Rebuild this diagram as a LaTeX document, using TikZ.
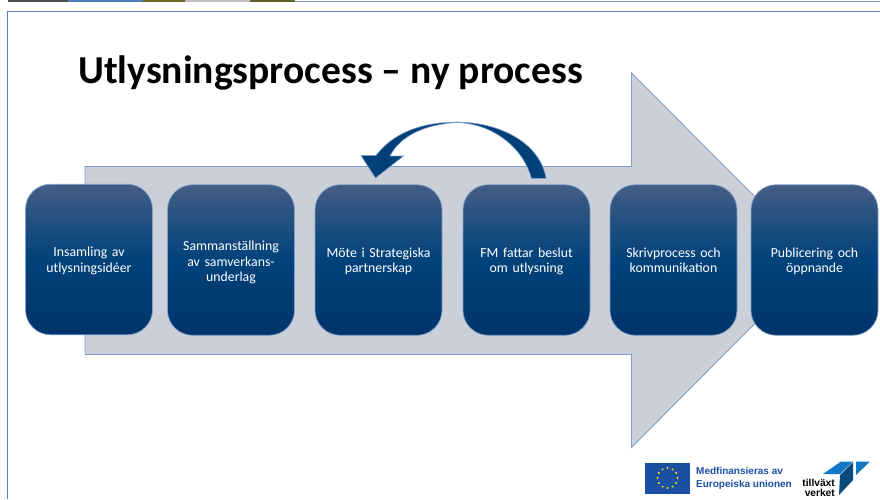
\documentclass[tikz,border=0pt]{standalone}
\usepackage{fontspec}
\setmainfont{Carlito}
\newfontfamily\logofont{Liberation Sans}
\usetikzlibrary{calc,shapes.geometric}
\definecolor{framec}{HTML}{4F81BD}
\definecolor{arrowfill}{HTML}{CBD0D8}
\definecolor{arrowline}{HTML}{7F9FCB}
\definecolor{boxtop}{HTML}{435D85}
\definecolor{boxmid}{HTML}{00427A}
\definecolor{boxbot}{HTML}{00346B}
\definecolor{curvec}{HTML}{004079}
\definecolor{eublue}{HTML}{1A4FA3}
\definecolor{tvblue}{HTML}{0F78C8}
\definecolor{tvdark}{HTML}{0B4A7D}
\newcommand{\topfix}{\rule{0pt}{13pt}}
\newcommand{\botfix}{\rule[-3pt]{0pt}{3pt}}
\tikzset{
 stepbox/.style={rounded corners=25pt,minimum width=127pt,minimum height=150.5pt,draw=arrowline,line width=.7pt,
   top color=boxtop,bottom color=boxbot,middle color=boxmid,shading angle=0,text=white,align=center,
   font=\fontsize{13.8}{15.2}\selectfont,inner sep=0pt,text width=122pt},
 eustar/.style={fill=yellow!90!orange,inner sep=0pt}
}
\begin{document}
\begin{tikzpicture}[x=1pt,y=-1pt]
\useasboundingbox (0,0) rectangle (880,499);
% photo strip at the top
\fill[black!70] (8,0) rectangle (68,1.6);
\fill[framec] (68,0) rectangle (143,1.6);
\fill[olive!70!black] (143,0) rectangle (185,1.6);
\fill[black!25] (185,0) rectangle (250,1.6);
\fill[olive!60!black] (250,0) rectangle (295,1.6);
\draw[arrowline,line width=.7pt] (295,1) -- (880,1);
% frame
\draw[framec,line width=1pt] (880,11.5) -- (7.5,11.5) -- (7.5,499);
% title
\node[anchor=base west,inner sep=0pt,font=\fontsize{39.6}{42}\selectfont\bfseries] (title) at (78,83) {Utlysningsprocess – ny process};
% big arrow
\draw[arrowline,fill=arrowfill,line width=.9pt] (85,166.5) -- (631.5,166.5) -- (631.5,73) -- (818,260) -- (631.5,447.5) -- (631.5,354.5) -- (85,354.5) -- cycle;
% boxes
\node[stepbox] (b1) at (89,259.5) {\topfix Insamling av\\utlysningsidéer\botfix\\[15pt]};
\node[stepbox] (b2) at (231,260) {\rule{0pt}{15pt}Sammanställning\\av samverkans-\\underlag\botfix};
\node[stepbox] (b3) at (378.5,260) {\topfix Möte i Strategiska\\partnerskap\botfix\\[15pt]};
\node[stepbox] (b4) at (526.5,260) {\topfix FM fattar beslut\\om utlysning\botfix\\[15pt]};
\node[stepbox] (b5) at (673.5,260) {\topfix Skrivprocess och\\kommunikation\botfix\\[15pt]};
\node[stepbox] (b6) at (814.5,260) {\topfix Publicering och\\öppnande\botfix\\[15pt]};
% curved arrow
\coordinate (tailR) at (546,178.5);
\coordinate (tailL) at (531.5,178.5);
\coordinate (tip) at (375.5,178);
\draw[arrowline,line width=.6pt,fill=curvec]
 (tailL) .. controls (524,150) and (496,124.5) .. (458,122.5)
 .. controls (425,124) and (400,136) .. (390,156)
 -- (403.5,156) -- (tip) -- (361,155.5) -- (376,155.5)
 .. controls (392,134) and (420,122) .. (458,122)
 .. controls (505,123) and (541,146) .. (tailR) -- cycle;
% EU flag
\fill[eublue] (645,463) rectangle (690,493.5);
\foreach \a in {0,30,...,330}
  \node[eustar,star,star points=5,minimum size=2.2pt] at ($(667.5,478)+(\a:10)$) {};
% EU text
\node[anchor=base west,inner sep=0pt,text=eublue,font=\logofont\bfseries\fontsize{10}{11}\selectfont] (eu1) at (696,474) {Medfinansieras av};
\node[anchor=base west,inner sep=0pt,text=eublue,font=\logofont\bfseries\fontsize{10}{11}\selectfont] (eu2) at (696,487.5) {Europeiska unionen};
% Tillvaxtverket logo
\fill[tvblue] (823,474) -- (841,461.5) -- (853,461.5) -- (840,474) -- cycle;
\fill[tvdark] (840,475) -- (853,462) -- (853,480) -- (839,495) -- cycle;
\fill[tvblue] (856,461.5) -- (870,461.5) -- (856,475) -- cycle;
\node[anchor=base east,inner sep=0pt,font=\logofont\bfseries\fontsize{10.2}{11}\selectfont] (tv1) at (835,486) {tillväxt};
\node[anchor=base east,inner sep=0pt,font=\logofont\bfseries\fontsize{10.2}{11}\selectfont] (tv2) at (835,496) {verket};
\end{tikzpicture}
\end{document}
